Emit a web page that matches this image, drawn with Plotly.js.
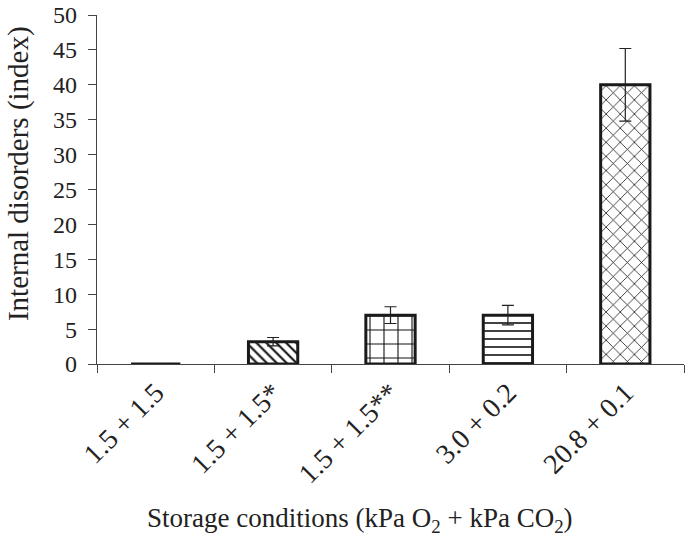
<!DOCTYPE html>
<html>
<head>
<meta charset="utf-8">
<script src="https://cdn.plot.ly/plotly-3.0.1.min.js"></script>
<style>html,body{margin:0;padding:0;background:#fff;}#chart{width:685px;height:540px;}</style>
</head>
<body>
<div id="chart"></div>
<script>
const categories = ["1.5 + 1.5", "1.5 + 1.5*", "1.5 + 1.5**", "3.0 + 0.2", "20.8 + 0.1"];
const values = [0, 3.2, 7.0, 7.0, 40.0];
const errors = [0, 0.6, 1.2, 1.4, 5.2];
const patterns = ["", "\\", "+", "-", "x"];
const xTitle = "Storage conditions (kPa O<sub>2</sub> + kPa CO<sub>2</sub>)";
const yTitle = "Internal disorders (index)";

const FONT = "Liberation Serif, Times New Roman, serif";

const trace = {
  type: "bar",
  x: categories,
  y: values,
  width: 0.42,
  marker: {
    color: "white",
    line: {color: "#1a1a1a", width: 3},
    pattern: {shape: patterns, fgcolor: "#111", bgcolor: "white", size: [0, 7, 14, 8, 10], solidity: [0.3, 0.3, 0.15, 0.2, 0.15]}
  },
  error_y: {type: "data", array: errors, visible: true, color: "#222", thickness: 1.2, width: 6}
};

const layout = {
  width: 685, height: 540,
  margin: {l: 97, r: 1, t: 15, b: 176},
  paper_bgcolor: "white", plot_bgcolor: "white",
  font: {family: FONT, color: "#222", size: 20},
  showlegend: false,
  xaxis: {
    type: "category", automargin: false,
    showline: true, linecolor: "#444", linewidth: 1.2,
    ticks: "outside", tickson: "boundaries", ticklen: 8, tickcolor: "#444",
    tickangle: -45,
    tickfont: {size: 28, family: FONT, color: "#222"},
    showgrid: false, zeroline: false
  },
  yaxis: {
    range: [0, 50], dtick: 5, tick0: 0, automargin: false,
    showline: true, linecolor: "#444", linewidth: 1.2,
    ticks: "outside", ticklen: 8, tickcolor: "#444", ticksuffix: "\u00a0",
    tickfont: {size: 24, family: FONT, color: "#222"},
    showgrid: false, zeroline: false
  },
  annotations: [
    {text: xTitle, xref: "paper", yref: "paper", x: 0.448, y: -0.447, xanchor: "center", yanchor: "middle",
     showarrow: false, font: {size: 27, family: FONT, color: "#222"}},
    {text: yTitle, xref: "paper", yref: "paper", x: -0.1346, y: 0.547, xanchor: "center", yanchor: "middle",
     textangle: -90, showarrow: false, font: {size: 29, family: FONT, color: "#222"}}
  ]
};

Plotly.newPlot("chart", [trace], layout, {staticPlot: true, displayModeBar: false});
</script>
</body>
</html>
